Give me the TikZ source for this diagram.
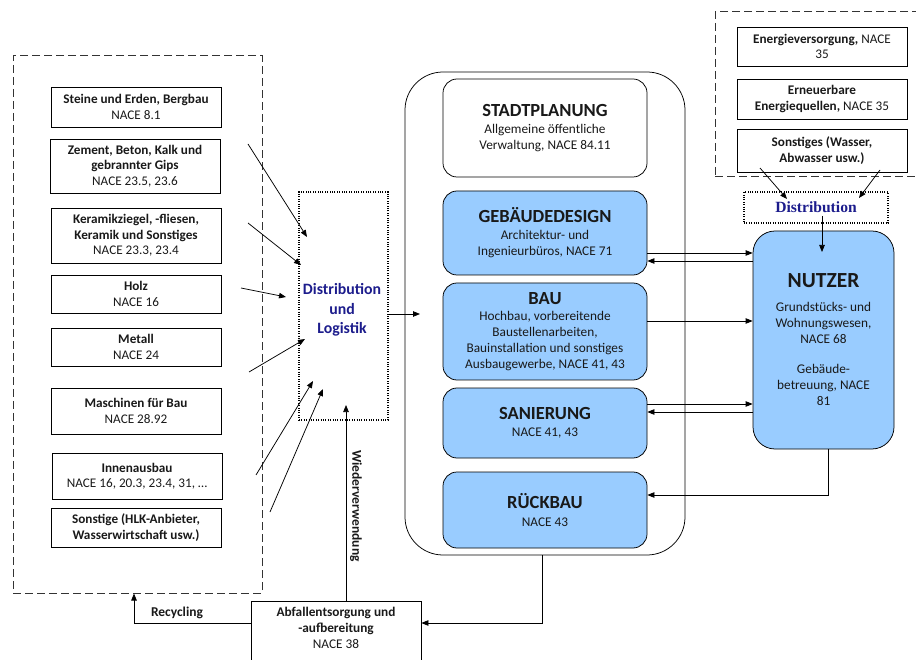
\documentclass[tikz,border=0pt]{standalone}
\usepackage{fontspec}
\setmainfont{Carlito}
\newfontfamily\distserif{Liberation Serif}
\usetikzlibrary{arrows.meta}
\definecolor{boxblue}{RGB}{153,204,255}
\definecolor{distnavy}{RGB}{28,28,140}
\definecolor{txt}{RGB}{25,25,25}
\newcommand\boxtitle[1]{{\fontsize{18.5}{21}\selectfont\bfseries #1}}
\begin{document}
\begin{tikzpicture}[x=1pt,y=-1pt,line width=0.75pt,
  >={Triangle[length=7pt,width=5.5pt]},
  every node/.style={text=txt},
  sup/.style={draw,align=center,minimum width=170pt,inner sep=1pt,font=\fontsize{13.2}{15.5}\selectfont},
  cbox/.style={draw,rounded corners=14pt,align=center,minimum width=204pt,inner sep=1pt,fill=boxblue,font=\fontsize{13.3}{16}\selectfont},
  dashbox/.style={draw=black!80,dash pattern=on 8pt off 4pt,line width=1pt,inner sep=0pt},
  dotbox/.style={draw,dash pattern=on 1pt off 1.4pt,line width=1.1pt,inner sep=0pt}]
\useasboundingbox (0,0) rectangle (916,660);

% supplier group
\node[dashbox,minimum width=249pt,minimum height=537pt] (supply) at (137.5,324.5) {};
\node[sup,minimum height=40pt] (steine) at (136,107) {\textbf{Steine und Erden, Bergbau}\\NACE 8.1};
\node[sup,minimum height=54pt] (zement) at (135,166) {\textbf{Zement, Beton, Kalk und}\\\textbf{gebrannter Gips}\\NACE 23.5, 23.6};
\node[sup,minimum height=55pt] (keramik) at (136,235.5) {\textbf{Keramikziegel, -fliesen,}\\\textbf{Keramik und Sonstiges}\\NACE 23.3, 23.4};
\node[sup,minimum height=38pt] (holz) at (136,294) {\textbf{Holz}\\NACE 16};
\node[sup,minimum height=38pt] (metall) at (136,347) {\textbf{Metall}\\NACE 24};
\node[sup,minimum height=46pt] (masch) at (136,411) {\textbf{Maschinen für Bau}\\NACE 28.92};
\node[sup,minimum height=46pt] (innen) at (137,476) {\textbf{Innenausbau}\\NACE 16, 20.3, 23.4, 31, \dots};
\node[sup,minimum height=39pt] (sonst) at (136,527.5) {\textbf{Sonstige (HLK-Anbieter,}\\\textbf{Wasserwirtschaft usw.)}};

% distribution und logistik
\node[dotbox,minimum width=89pt,minimum height=228pt] (dist) at (343.5,306) {};
\node[align=center,text=distnavy,font=\fontsize{15.8}{19.5}\selectfont\bfseries] (distlabel) at (342,310) {Distribution\\und\\Logistik};

\coordinate (a1s) at (248,144); \coordinate (a1e) at (307,237);
\coordinate (a2s) at (248,223); \coordinate (a2e) at (301,265);
\coordinate (a3s) at (241,288); \coordinate (a3e) at (286,297);
\coordinate (a4s) at (249,372); \coordinate (a4e) at (305,339);
\coordinate (a5s) at (256,475); \coordinate (a5e) at (313,381);
\coordinate (a6s) at (270,512); \coordinate (a6e) at (323,389);
\foreach \i in {1,...,6} {\draw[->] (a\i s) -- (a\i e);}

% core group
\node[draw,rounded corners=38pt,minimum width=280pt,minimum height=483pt,inner sep=0pt] (core) at (545,313.5) {};
\node[cbox,fill=white,minimum height=98pt] (stadt) at (545,128) {\boxtitle{STADTPLANUNG}\\[1pt]Allgemeine öffentliche\\Verwaltung, NACE 84.11};
\node[cbox,minimum height=84pt] (geb) at (545,233) {\boxtitle{GEBÄUDEDESIGN}\\[1pt]Architektur- und\\Ingenieurbüros, NACE 71};
\node[cbox,minimum height=97pt] (bau) at (545,331.5) {\boxtitle{BAU}\\Hochbau, vorbereitende\\Baustellenarbeiten,\\Bauinstallation und sonstiges\\Ausbaugewerbe, NACE 41, 43};
\node[cbox,minimum height=70pt] (san) at (545,423) {\boxtitle{SANIERUNG}\\[1pt]NACE 41, 43};
\node[cbox,minimum height=76pt] (rueck) at (545,510) {\boxtitle{RÜCKBAU}\\[2pt]NACE 43};

\coordinate (coreIn) at (420,314);
\draw[->] (dist.east |- coreIn) -- (coreIn);

% utilities
\node[dashbox,minimum width=212pt,minimum height=165pt] (util) at (821,94.5) {};
\node[sup,minimum height=39pt] (energ) at (822,46.5) {\textbf{Energieversorgung,} NACE\\35};
\node[sup,minimum height=40pt] (erneu) at (822,99) {\textbf{Erneuerbare}\\\textbf{Energiequellen,} NACE 35};
\node[sup,minimum height=43pt] (sonstw) at (822,150.5) {\textbf{Sonstiges (Wasser,}\\\textbf{Abwasser usw.)}};
\node[dotbox,minimum width=144pt,minimum height=31pt] (dist2) at (816,207.5) {};
\node[text=distnavy,font=\distserif\fontsize{15.6}{18}\selectfont\bfseries] (dist2label) at (816,207) {Distribution};
\coordinate (u1s) at (760,168); \coordinate (u1e) at (787,199);
\coordinate (u2s) at (880,170); \coordinate (u2e) at (859,198);
\draw[->] (u1s) -- (u1e);
\draw[->] (u2s) -- (u2e);

% user
\node[draw,rounded corners=22pt,fill=boxblue,minimum width=141pt,minimum height=218pt,align=center,inner sep=0pt,font=\fontsize{13.3}{16}\selectfont] (nutzer) at (823.5,340)
 {{\fontsize{21.5}{24}\selectfont\bfseries NUTZER}\\[8pt]Grundstücks- und\\Wohnungswesen,\\NACE 68\\[14pt]Gebäude-\\betreuung, NACE\\81};
\coordinate (d2s) at (822,216); \coordinate (d2e) at (822,252);
\draw[->] (d2s) -- (d2e);

% core <-> user
\draw[->] (geb.east |- 0,253) -- (nutzer.west |- 0,253);
\draw[->] (nutzer.west |- 0,261) -- (geb.east |- 0,261);
\draw[->] (bau.east |- 0,321) -- (nutzer.west |- 0,321);
\draw[->] (san.east |- 0,404) -- (nutzer.west |- 0,404);
\draw[->] (nutzer.west |- 0,412) -- (san.east |- 0,412);
\draw[->] (nutzer.south -| 828,0) |- (rueck.east |- 0,495);

% waste
\node[draw,minimum width=170pt,minimum height=70pt,anchor=north,inner sep=0pt] (abfall) at (336,601) {};
\node[align=center,font=\fontsize{13.3}{16}\selectfont,anchor=north] (abfalltext) at (336,603) {\textbf{Abfallentsorgung und}\\\textbf{-aufbereitung}\\NACE 38};
\draw[->] (core.south -| 542,0) |- (abfall.east |- 0,623);
\draw[->] (abfall.west |- 0,623) -| (supply.south -| 134,0);
\node[font=\fontsize{13.5}{16}\selectfont\bfseries] (recyc) at (177,613) {Recycling};
\draw[->] (abfall.north -| 346,0) -- (346,405);
\node[rotate=-90,font=\fontsize{13.5}{16}\selectfont\bfseries] (wieder) at (356,506) {Wiederverwendung};
\end{tikzpicture}
\end{document}
